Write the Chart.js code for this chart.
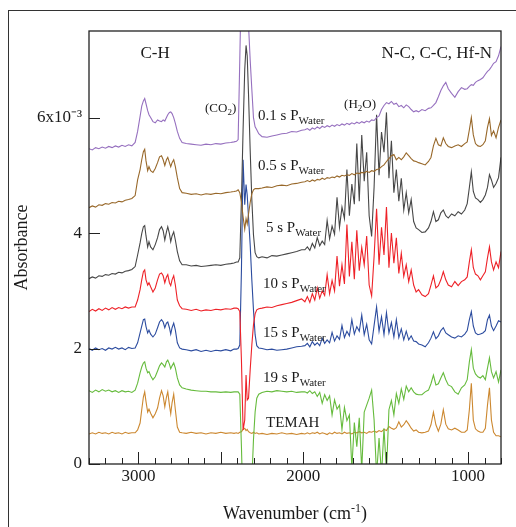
<!DOCTYPE html>
<html lang="en">
<head>
    <meta charset="UTF-8">
    <meta name="viewport" content="width=device-width, initial-scale=1.0">
    <title>FTIR absorbance vs water pulse</title>
    <script src="https://cdn.jsdelivr.net/npm/chart.js"></script>
    <style>
        html, body { margin: 0; padding: 0; background: #fff; }
        #wrap { position: relative; width: 516px; height: 527px; overflow: hidden; }
        #frame { position: absolute; left: 8px; top: 10px; width: 600px; height: 600px;
                 border-left: 1px solid #333; border-top: 1px solid #333; }
        #spectra { position: absolute; left: 0; top: 0; }
    </style>
</head>
<body>
<div id="wrap">
    <div id="frame"></div>
    <canvas id="spectra" width="516" height="527"></canvas>
</div>

<script>
// wavenumber grid (cm-1), shared by every spectrum
var wavenumbers = [
    3300, 3280, 3260, 3240, 3220, 3200, 3180, 3160, 3140, 3120, 3100, 3080, 3060, 3040,
    3020, 3005, 2990, 2980, 2970, 2962, 2954, 2944, 2936, 2926, 2912, 2898, 2884, 2872,
    2860, 2850, 2840, 2830, 2822, 2812, 2804, 2796, 2786, 2776, 2764, 2750, 2735,
    2710, 2680, 2650, 2620, 2590, 2560, 2530, 2500, 2470, 2440, 2420,
    2405, 2395, 2385, 2375, 2365, 2355, 2347, 2340, 2332, 2322, 2312, 2302, 2292, 2282, 2270,
    2250, 2220, 2190, 2160, 2130, 2100, 2070, 2040, 2010,
    1990, 1975, 1960, 1945, 1930, 1915, 1900, 1885, 1870, 1855, 1840, 1825, 1810, 1795, 1780,
    1765, 1750, 1735, 1720, 1705, 1690, 1675, 1660, 1645, 1630, 1615, 1600, 1585, 1570, 1555,
    1540, 1525, 1510, 1495, 1480, 1465, 1450, 1435, 1420, 1405, 1390, 1375, 1360,
    1345, 1330, 1315, 1300, 1280, 1260, 1240, 1225, 1210, 1195, 1180, 1165, 1150, 1135, 1120,
    1100, 1080, 1060, 1040, 1020, 1005, 992, 980, 968, 955, 940, 925, 910, 895, 882, 870,
    858, 845, 830, 815, 800
];

// absorbance, x10^-3 (offset traces as plotted)
var water0_1s = [
    5.46, 5.44, 5.48, 5.46, 5.49, 5.47, 5.50, 5.48, 5.51, 5.49, 5.52, 5.50, 5.53, 5.51,
    5.57, 5.76, 6.02, 6.20, 6.29, 6.33, 6.24, 6.12, 6.05, 6.00, 5.93, 5.91, 5.96, 5.94,
    5.93, 5.96, 5.94, 6.00, 6.05, 6.09, 6.10, 6.07, 6.00, 5.90, 5.76, 5.64, 5.57,
    5.55, 5.54, 5.53, 5.52, 5.54, 5.53, 5.55, 5.54, 5.56, 5.57, 5.58,
    5.59, 5.62, 7.00, 8.50, 8.20, 9.00, 8.80, 8.00, 7.60, 7.00, 6.49, 6.00, 5.84, 5.79, 5.72,
    5.67, 5.66, 5.68, 5.70, 5.72, 5.73, 5.76, 5.75, 5.78,
    5.79, 5.81, 5.78, 5.82, 5.80, 5.84, 5.81, 5.85, 5.83, 5.86, 5.84, 5.87, 5.85, 5.88, 5.86,
    5.89, 5.87, 5.90, 5.88, 5.91, 5.89, 5.92, 5.90, 5.93, 5.91, 5.94, 5.92, 5.96, 5.95, 6.00,
    6.03, 6.14, 6.21, 6.26, 6.24, 6.28, 6.23, 6.25, 6.19, 6.21, 6.17, 6.22, 6.19,
    6.14, 6.10, 6.12, 6.10, 6.14, 6.12, 6.16, 6.17, 6.21, 6.26, 6.36, 6.47, 6.55, 6.61, 6.50,
    6.42, 6.35, 6.45, 6.52, 6.49, 6.50, 6.54, 6.57, 6.56, 6.61, 6.64, 6.66, 6.69, 6.75, 6.80, 6.83,
    6.88, 6.94, 6.97, 7.07, 7.23
];
var water0_5s = [
    4.44, 4.47, 4.45, 4.49, 4.48, 4.51, 4.50, 4.53, 4.52, 4.55, 4.54, 4.57, 4.58, 4.60,
    4.65, 4.92, 5.10, 5.27, 5.41, 5.45, 5.25, 5.08, 5.15, 5.08, 5.05, 5.12, 5.22, 5.32,
    5.34, 5.27, 5.17, 5.27, 5.31, 5.22, 5.15, 5.22, 5.27, 5.15, 4.96, 4.77, 4.70,
    4.69, 4.67, 4.68, 4.66, 4.68, 4.67, 4.69, 4.68, 4.70, 4.71, 4.72,
    4.73, 4.75, 4.70, 4.54, 4.28, 4.07, 4.25, 4.16, 4.33, 4.53, 4.68, 4.75, 4.77, 4.77, 4.77,
    4.78, 4.80, 4.79, 4.82, 4.83, 4.82, 4.85, 4.86, 4.88,
    4.89, 4.91, 4.89, 4.92, 4.90, 4.93, 4.92, 4.95, 4.93, 4.96, 4.95, 4.97, 4.96, 4.99, 4.97,
    5.00, 4.99, 5.01, 5.00, 5.03, 5.01, 5.04, 5.03, 5.05, 5.04, 5.07, 5.05, 5.08, 5.07, 5.10,
    5.11, 5.15, 5.18, 5.24, 5.29, 5.34, 5.36, 5.27, 5.31, 5.27, 5.32, 5.39, 5.34,
    5.29, 5.25, 5.24, 5.22, 5.20, 5.18, 5.24, 5.31, 5.51, 5.64, 5.53, 5.51, 5.65, 5.55, 5.50,
    5.48, 5.51, 5.53, 5.50, 5.55, 5.58, 5.79, 6.00, 5.70, 5.55, 5.51, 5.50, 5.53, 5.60, 5.83, 5.98,
    5.69, 5.77, 5.65, 5.83, 5.96
];
var water5s = [
    3.21, 3.24, 3.22, 3.26, 3.25, 3.28, 3.27, 3.30, 3.29, 3.32, 3.31, 3.34, 3.35, 3.37,
    3.42, 3.62, 3.83, 3.99, 4.11, 4.13, 3.95, 3.76, 3.85, 3.76, 3.71, 3.80, 3.92, 4.06,
    4.11, 4.04, 3.88, 4.02, 4.11, 3.99, 3.85, 3.95, 4.02, 3.88, 3.68, 3.52, 3.45,
    3.45, 3.43, 3.44, 3.42, 3.43, 3.44, 3.45, 3.44, 3.46, 3.47, 3.48,
    3.50, 3.50, 3.57, 4.58, 5.79, 6.83, 7.25, 7.07, 6.40, 5.44, 4.58, 3.97, 3.66, 3.59, 3.57,
    3.59, 3.57, 3.61, 3.60, 3.62, 3.64, 3.66, 3.68, 3.71,
    3.71, 3.76, 3.70, 3.82, 3.74, 3.92, 3.78, 3.86, 3.80, 4.22, 3.90, 4.12, 3.98, 4.62, 4.10,
    4.45, 4.25, 5.10, 4.30, 4.85, 4.50, 5.55, 4.55, 5.70, 4.90, 5.40, 4.30, 3.94, 4.80, 6.05,
    5.00, 5.75, 5.40, 6.09, 4.95, 5.60, 4.70, 5.10, 4.55, 4.95, 4.40, 4.70, 4.35,
    4.58, 4.20, 4.09, 4.06, 4.01, 4.02, 4.09, 4.20, 4.37, 4.20, 4.23, 4.35, 4.40, 4.30, 4.26,
    4.33, 4.30, 4.37, 4.33, 4.40, 4.51, 4.79, 5.06, 4.72, 4.61, 4.58, 4.53, 4.58, 4.66, 4.79, 5.01,
    4.92, 4.79, 4.86, 4.96, 5.31
];
var water10s = [
    2.64, 2.68, 2.65, 2.69, 2.66, 2.70, 2.67, 2.71, 2.68, 2.71, 2.69, 2.72, 2.70, 2.72,
    2.72, 2.84, 3.02, 3.19, 3.33, 3.36, 3.19, 3.10, 3.14, 3.07, 2.98, 3.05, 3.19, 3.29,
    3.31, 3.26, 3.14, 3.24, 3.28, 3.14, 3.09, 3.19, 3.26, 3.10, 2.84, 2.74, 2.69,
    2.68, 2.66, 2.68, 2.65, 2.67, 2.66, 2.68, 2.67, 2.69, 2.68, 2.70,
    2.70, 2.69, 2.64, 1.80, 0.59, 0.76, 1.54, 1.11, 1.14, 1.63, 2.06, 2.41, 2.60, 2.67, 2.69,
    2.70, 2.72, 2.71, 2.74, 2.76, 2.78, 2.80, 2.83, 2.86,
    2.81, 2.90, 2.80, 2.95, 2.84, 3.05, 2.87, 3.00, 2.92, 3.28, 2.95, 3.18, 3.00, 3.60, 3.08,
    3.45, 3.12, 4.15, 3.25, 3.85, 3.20, 4.05, 3.35, 3.75, 3.45, 3.95, 3.10, 2.91, 3.60, 4.42,
    3.45, 4.10, 3.62, 4.45, 3.40, 4.00, 3.48, 3.92, 3.30, 3.65, 3.25, 3.45, 3.16,
    3.36, 3.10, 2.98, 3.02, 2.93, 2.90, 2.95, 3.10, 3.26, 3.05, 3.09, 3.19, 3.33, 3.19, 3.10,
    3.07, 3.16, 3.09, 3.16, 3.19, 3.24, 3.50, 3.71, 3.40, 3.29, 3.26, 3.19, 3.26, 3.33, 3.57, 3.76,
    3.50, 3.36, 3.50, 3.40, 3.68
];
var water15s = [
    2.00, 1.97, 2.01, 1.98, 2.00, 1.97, 2.01, 1.99, 2.02, 1.99, 2.01, 1.98, 2.02, 2.00,
    2.01, 2.10, 2.27, 2.39, 2.50, 2.51, 2.38, 2.27, 2.32, 2.25, 2.20, 2.25, 2.36, 2.46,
    2.50, 2.46, 2.36, 2.44, 2.46, 2.36, 2.25, 2.36, 2.44, 2.32, 2.10, 2.01, 1.99,
    1.98, 1.96, 1.98, 1.95, 1.97, 1.95, 1.97, 1.96, 1.98, 1.96, 1.99,
    1.99, 2.00, 2.06, 3.36, 5.27, 4.49, 4.84, 4.66, 4.27, 3.80, 3.19, 2.67, 2.24, 2.05, 2.01,
    2.00, 1.98, 1.99, 1.97, 1.98, 1.99, 2.01, 2.03, 2.04,
    2.05, 2.09, 2.03, 2.12, 2.06, 2.10, 2.05, 2.18, 2.09, 2.15, 2.10, 2.28, 2.13, 2.22, 2.16,
    2.40, 2.19, 2.30, 2.22, 2.50, 2.25, 2.38, 2.30, 2.58, 2.24, 2.42, 2.15, 2.08, 2.40, 2.72,
    2.30, 2.55, 2.24, 2.62, 2.27, 2.45, 2.20, 2.50, 2.19, 2.34, 2.15, 2.30, 2.15,
    2.22, 2.13, 2.12, 2.08, 2.06, 2.03, 2.10, 2.18, 2.29, 2.17, 2.22, 2.31, 2.36, 2.27, 2.24,
    2.20, 2.18, 2.22, 2.20, 2.25, 2.31, 2.50, 2.64, 2.39, 2.27, 2.24, 2.25, 2.27, 2.31, 2.50, 2.58,
    2.39, 2.31, 2.39, 2.48, 2.46
];
var water19s = [
    1.27, 1.24, 1.28, 1.25, 1.29, 1.26, 1.28, 1.25, 1.27, 1.24, 1.27, 1.25, 1.26, 1.24,
    1.28, 1.40, 1.58, 1.68, 1.75, 1.77, 1.66, 1.58, 1.60, 1.53, 1.46, 1.51, 1.61, 1.70,
    1.75, 1.72, 1.68, 1.77, 1.80, 1.73, 1.65, 1.70, 1.75, 1.66, 1.49, 1.37, 1.32,
    1.30, 1.28, 1.27, 1.26, 1.26, 1.25, 1.25, 1.24, 1.25, 1.24, 1.25,
    1.25, 1.25, 1.21, 0.30, -0.80, -1.00, -1.00, -1.00, -1.00, -0.80, -0.30, 0.42, 0.90, 1.14, 1.21,
    1.24, 1.26, 1.25, 1.27, 1.26, 1.25, 1.26, 1.24, 1.25,
    1.25, 1.23, 1.27, 1.22, 1.25, 1.17, 1.24, 1.05, 1.20, 1.10, 1.18, 0.85, 1.11, 0.95, 1.02,
    0.60, 0.98, 0.75, 0.85, -0.07, 0.72, 0.30, 0.80, -0.10, 0.90, 1.02, 1.14, 1.28, 0.76, -0.19,
    0.45, -0.19, 0.62, -0.14, 0.94, 1.10, 0.85, 1.22, 1.05, 1.30, 1.12, 1.35, 1.25,
    1.32, 1.25, 1.21, 1.20, 1.20, 1.25, 1.28, 1.39, 1.54, 1.37, 1.39, 1.49, 1.58, 1.46, 1.37,
    1.34, 1.25, 1.21, 1.32, 1.37, 1.46, 1.77, 1.98, 1.66, 1.56, 1.51, 1.49, 1.53, 1.46, 1.66, 1.84,
    1.60, 1.49, 1.60, 1.42, 1.63
];
var temah = [
    0.52, 0.54, 0.52, 0.55, 0.53, 0.54, 0.52, 0.55, 0.53, 0.54, 0.52, 0.55, 0.53, 0.54,
    0.54, 0.59, 0.71, 0.94, 1.16, 1.25, 1.08, 0.90, 0.95, 0.88, 0.80, 0.87, 0.97, 1.14,
    1.27, 1.18, 0.99, 1.16, 1.25, 1.02, 0.87, 1.06, 1.21, 0.94, 0.64, 0.55, 0.54,
    0.53, 0.55, 0.53, 0.54, 0.52, 0.54, 0.53, 0.55, 0.53, 0.54, 0.53,
    0.54, 0.53, 0.55, 0.56, 0.60, 0.62, 0.58, 0.60, 0.56, 0.54, 0.53, 0.55, 0.53, 0.54, 0.52,
    0.53, 0.51, 0.53, 0.52, 0.54, 0.52, 0.53, 0.51, 0.53,
    0.52, 0.54, 0.52, 0.54, 0.53, 0.55, 0.52, 0.54, 0.53, 0.51, 0.54, 0.52, 0.55, 0.53, 0.54,
    0.52, 0.55, 0.53, 0.54, 0.52, 0.55, 0.54, 0.56, 0.54, 0.55, 0.53, 0.56, 0.55, 0.57, 0.55,
    0.58, 0.56, 0.60, 0.58, 0.65, 0.62, 0.60, 0.63, 0.73, 0.64, 0.68, 0.75, 0.69,
    0.62, 0.57, 0.59, 0.55, 0.54, 0.55, 0.57, 0.68, 0.90, 0.68, 0.57, 0.69, 0.94, 0.69, 0.61,
    0.59, 0.62, 0.59, 0.55, 0.55, 0.59, 0.94, 1.40, 0.76, 0.61, 0.57, 0.55, 0.55, 0.62, 1.02, 1.32,
    0.76, 0.55, 0.49, 0.49, 0.47
];

var seriesNames = ['0.1 s PWater', '0.5 s PWater', '5 s PWater', '10 s PWater', '15 s PWater', '19 s PWater', 'TEMAH'];
var yTicks = [0, 2, 4, 6];
var xTickLabels = [1000, 2000, 3000];

var FONT = '"Liberation Serif", "Times New Roman", serif';
var colors = ['#9670bf', '#98682a', '#474747', '#ee2228', '#2c4c9f', '#66bb3d', '#cc8830'];

function toPoints(values) {
    return wavenumbers.map(function(w, i) { return { x: w, y: values[i] }; });
}

// rich text: [text, size, baseline shift]
function drawParts(ctx, parts, x, y, align) {
    var total = 0;
    parts.forEach(function(p) { ctx.font = p[1] + 'px ' + FONT; total += ctx.measureText(p[0]).width; });
    var cx = align === 'center' ? x - total / 2 : (align === 'right' ? x - total : x);
    ctx.textAlign = 'left';
    ctx.textBaseline = 'alphabetic';
    parts.forEach(function(p) {
        ctx.font = p[1] + 'px ' + FONT;
        ctx.fillText(p[0], cx, y + p[2]);
        cx += ctx.measureText(p[0]).width;
    });
}

// annotations anchored in data units (wavenumber, absorbance)
var notes = [
    { parts: [['C-H', 17, 0]], w: 2899, a: 7.04, align: 'center' },
    { parts: [['N-C, C-C, Hf-N', 17, 0]], w: 854, a: 7.04, align: 'right' },
    { parts: [['(CO', 13, 0], ['2', 9, 3], [')', 13, 0]], w: 2596, a: 6.10 },
    { parts: [['(H', 13, 0], ['2', 9, 3], ['O)', 13, 0]], w: 1752, a: 6.16 },
    { parts: [['0.1 s P', 15, 0], ['Water', 11, 4]], w: 2274, a: 5.95 },
    { parts: [['0.5 s P', 15, 0], ['Water', 11, 4]], w: 2274, a: 5.10 },
    { parts: [['5 s P', 15, 0], ['Water', 11, 4]], w: 2226, a: 4.01 },
    { parts: [['10 s P', 15, 0], ['Water', 11, 4]], w: 2244, a: 3.05 },
    { parts: [['15 s P', 15, 0], ['Water', 11, 4]], w: 2244, a: 2.20 },
    { parts: [['19 s P', 15, 0], ['Water', 11, 4]], w: 2244, a: 1.42 },
    { parts: [['TEMAH', 15, 0]], w: 2226, a: 0.64 }
];

var decorations = {
    id: 'decorations',
    afterDraw: function(chart) {
        var ctx = chart.ctx, area = chart.chartArea;
        var xs = chart.scales.x, ys = chart.scales.y;
        ctx.save();
        ctx.strokeStyle = '#222';
        ctx.lineWidth = 1.3;
        ctx.strokeRect(area.left, area.top, area.right - area.left, area.bottom - area.top);

        // inward tick marks
        ctx.lineWidth = 1;
        xs.ticks.forEach(function(t) {
            var px = Math.round(xs.getPixelForValue(t.value)) + 0.5;
            var len = t.value % 500 === 0 ? 12 : 6;
            ctx.beginPath();
            ctx.moveTo(px, area.bottom);
            ctx.lineTo(px, area.bottom - len);
            ctx.stroke();
        });
        ys.ticks.forEach(function(t) {
            var py = Math.round(ys.getPixelForValue(t.value)) + 0.5;
            ctx.beginPath();
            ctx.moveTo(area.left, py);
            ctx.lineTo(area.left + 11, py);
            ctx.stroke();
        });

        ctx.fillStyle = '#1a1a1a';
        notes.forEach(function(n) {
            drawParts(ctx, n.parts, xs.getPixelForValue(n.w), ys.getPixelForValue(n.a), n.align);
        });

        // axis titles
        drawParts(ctx, [['Wavenumber (cm', 18, 0], ['-1', 12, -7], [')', 18, 0]],
                  (area.left + area.right) / 2, 519, 'center');
        ctx.translate(22, (area.top + area.bottom) / 2);
        ctx.rotate(-Math.PI / 2);
        ctx.font = '18px ' + FONT;
        ctx.textAlign = 'center';
        ctx.textBaseline = 'middle';
        ctx.fillText('Absorbance', 0, 0);
        ctx.restore();
    }
};

var datasets = [water0_1s, water0_5s, water5s, water10s, water15s, water19s, temah].map(function(values, i) {
    return {
        label: seriesNames[i],
        data: toPoints(values),
        borderColor: colors[i],
        borderWidth: 1.1,
        pointRadius: 0,
        tension: 0,
        fill: false
    };
});

Chart.defaults.font.family = FONT;
Chart.defaults.color = '#1a1a1a';

var ctx = document.getElementById('spectra').getContext('2d');
var chart = new Chart(ctx, {
    type: 'line',
    data: { datasets: datasets },
    options: {
        responsive: false,
        animation: false,
        devicePixelRatio: 1,
        events: [],
        layout: { padding: { left: 0, top: 31, right: 15, bottom: 0 } },
        plugins: { legend: { display: false }, tooltip: { enabled: false } },
        scales: {
            x: {
                type: 'linear',
                reverse: true,
                min: 800,
                max: 3300,
                grid: { display: false, drawTicks: false },
                border: { display: false },
                ticks: {
                    stepSize: 100,
                    autoSkip: false,
                    maxRotation: 0,
                    padding: 2,
                    font: { size: 17 },
                    callback: function(v) { return xTickLabels.indexOf(v) >= 0 ? String(v) : ''; }
                },
                afterFit: function(scale) { scale.height = 63; }
            },
            y: {
                min: 0,
                max: 7.5,
                grid: { display: false, drawTicks: false },
                border: { display: false },
                ticks: {
                    stepSize: 2,
                    includeBounds: false,
                    padding: 7,
                    font: { size: 17 },
                    callback: function(v) {
                        if (yTicks.indexOf(v) < 0) return '';
                        return v === 6 ? '6x10\u207B\u00B3' : String(v);
                    }
                },
                afterFit: function(scale) { scale.width = 89; }
            }
        }
    },
    plugins: [decorations]
});
</script>
</body>
</html>
